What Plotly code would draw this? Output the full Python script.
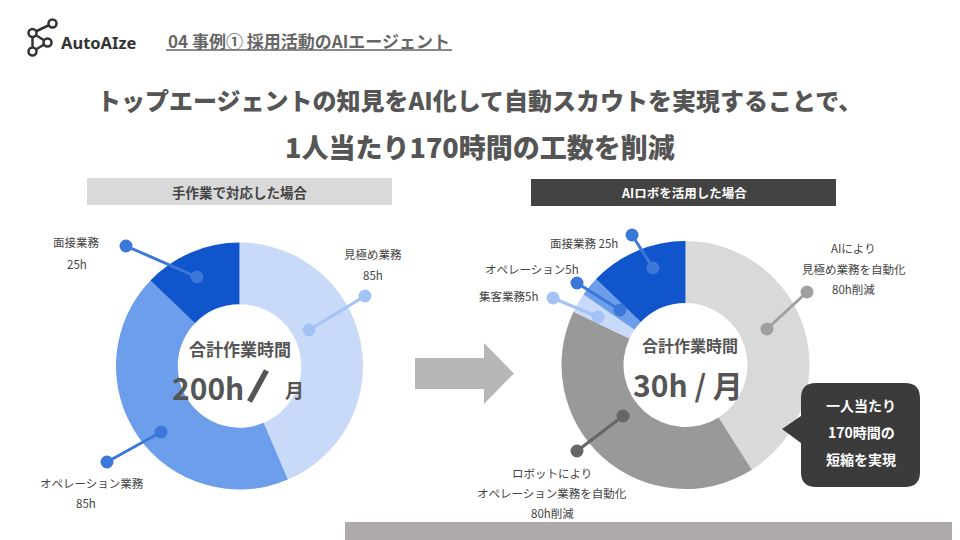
import plotly.graph_objects as go

# The page body adds an 8px margin around the figure; the figure is sized so
# that it fits the 960x540 window, and all positions below are given in
# window pixels.
OX, OY = 8, 8
W, H = 960 - OX, 540 - OY

# ---------------- data ----------------
manual_labels = ["見極め業務", "オペレーション業務", "面接業務"]
manual_hours = [85, 85, 25]
manual_colors = ["#c9daf8", "#6d9eeb", "#1155cc"]
manual_total = "200h"

ai_labels = ["AIにより見極め業務を自動化", "ロボットによりオペレーション業務を自動化",
             "集客業務", "オペレーション", "面接業務"]
ai_hours = [80, 80, 5, 5, 25]
ai_colors = ["#d9d9d9", "#999999", "#c9daf8", "#6d9eeb", "#1155cc"]
ai_total = "30h"

title_line1 = "トップエージェントの知見をAI化して自動スカウトを実現することで、"
title_line2 = "1人当たり170時間の工数を削減"
section_title = "04 事例① 採用活動のAIエージェント"
left_header = "手作業で対応した場合"
right_header = "AIロボを活用した場合"
callout_lines = ["一人当たり", "170時間の", "短縮を実現"]

JP = "Noto Sans CJK JP"
TXT = "#555555"
LBL = "#444444"


def px(x):
    return (x - OX) / W


def py(y):
    return 1 - (y - OY) / H


def P(x, y):
    return f"{px(x):.5f},{py(y):.5f}"


fig = go.Figure()

# ---------------- donuts ----------------
def domain(cx, cy, r):
    return dict(x=[px(cx - r), px(cx + r)], y=[py(cy + r), py(cy - r)])


fig.add_trace(go.Pie(
    labels=manual_labels, values=manual_hours, hole=0.5, sort=False,
    direction="clockwise", rotation=0, textinfo="none",
    marker=dict(colors=manual_colors, line=dict(width=0)),
    domain=domain(239.5, 366, 123.5), showlegend=False, hoverinfo="label+value"))

fig.add_trace(go.Pie(
    labels=ai_labels, values=ai_hours, hole=0.5, sort=False,
    direction="clockwise", rotation=0, textinfo="none",
    marker=dict(colors=ai_colors, line=dict(width=0)),
    domain=domain(685.5, 365, 124), showlegend=False, hoverinfo="label+value"))

shapes = []
annotations = []


def rect(x0, y0, x1, y1, color):
    shapes.append(dict(type="rect", xref="paper", yref="paper",
                       x0=px(x0), x1=px(x1), y0=py(y1), y1=py(y0),
                       fillcolor=color, line=dict(width=0), layer="below"))


def text(x, y, s, size=12, color=TXT, bold=False, family=JP, xanchor="center",
         weight=None):
    if bold:
        s = f"<b>{s}</b>"
    font = dict(family=family, size=size, color=color)
    if weight is not None:
        font["weight"] = weight
    annotations.append(dict(x=px(x), y=py(y), xref="paper", yref="paper",
                            text=s, showarrow=False, xanchor=xanchor, yanchor="middle",
                            font=font, borderpad=0))


def seg(x0, y0, x1, y1, color, width):
    shapes.append(dict(type="line", xref="paper", yref="paper",
                       x0=px(x0), y0=py(y0), x1=px(x1), y1=py(y1),
                       line=dict(color=color, width=width), layer="above"))


def leader(x0, y0, x1, y1, color, r=6.5):
    seg(x0, y0, x1, y1, color, 3)
    for (cx, cy) in [(x0, y0), (x1, y1)]:
        shapes.append(dict(type="circle", xref="paper", yref="paper",
                           x0=px(cx - r), x1=px(cx + r), y0=py(cy + r), y1=py(cy - r),
                           fillcolor=color, line=dict(width=0), layer="above"))


# ---------------- header area ----------------
nodes = [(52.5, 23.5), (32.5, 33), (47.5, 42.5), (32.5, 51.5)]
edges = [(0, 1), (1, 2), (2, 3), (1, 3)]
for a, b in edges:
    shapes.append(dict(type="line", xref="paper", yref="paper",
                       x0=px(nodes[a][0]), y0=py(nodes[a][1]),
                       x1=px(nodes[b][0]), y1=py(nodes[b][1]),
                       line=dict(color="#333333", width=2.5)))
for (cx, cy) in nodes:
    r = 4
    shapes.append(dict(type="circle", xref="paper", yref="paper",
                       x0=px(cx - r), x1=px(cx + r), y0=py(cy + r), y1=py(cy - r),
                       fillcolor="white", line=dict(color="#333333", width=2.5)))
text(60, 42, "AutoAIze", size=16.5, color="#333333", bold=True, family="Noto Sans",
     xanchor="left")

text(309, 41, section_title, size=17, color="#666666", bold=True)
shapes.append(dict(type="line", xref="paper", yref="paper",
                   x0=px(166), x1=px(452), y0=py(50), y1=py(50),
                   line=dict(color="#8a8a8a", width=2)))

text(479, 100, title_line1, size=24, color="#555555", weight=900)
text(480, 146, title_line2, size=27, color="#555555", weight=900)

# section header bars
rect(87, 178, 392, 205, "#d9d9d9")
text(239.5, 192, left_header, size=13.5, color=LBL, bold=True)
rect(531, 179, 836, 206, "#434343")
text(683.5, 192.5, right_header, size=12.5, color="#ffffff", bold=True)

# arrow
arrow = ("M " + P(415, 358) + " L " + P(484, 358) + " L " + P(484, 343) + " L " +
         P(514, 373.5) + " L " + P(484, 404) + " L " + P(484, 389) + " L " +
         P(415, 389) + " Z")
shapes.append(dict(type="path", xref="paper", yref="paper", path=arrow,
                   fillcolor="#b7b7b7", line=dict(width=0)))

# bottom bar
rect(345, 522, 960, 540, "#aeaaaa")

# ---------------- left donut labels ----------------
leader(126, 246, 197, 277, "#3c78d8")
leader(365, 296, 309, 330, "#a4c2f4")
leader(107, 462, 161, 432, "#3c78d8")

text(76.5, 242, manual_labels[2], size=11.5, color=LBL)
text(77, 264, f"{manual_hours[2]}h", size=11.5, color=LBL)
text(373, 254, manual_labels[0], size=11.5, color=LBL)
text(373, 275, f"{manual_hours[0]}h", size=11.5, color=LBL)
text(92, 483, manual_labels[1], size=11.5, color=LBL)
text(86, 503, f"{manual_hours[1]}h", size=11.5, color=LBL)

text(240, 348, "合計作業時間", size=17, color=TXT, bold=True)
text(208, 387, manual_total, size=30, color=TXT, bold=True)
seg(249.5, 401.5, 266.5, 370.5, TXT, 5.5)   # big slash of "200h／月"
text(294, 389, "月", size=19, color=TXT, bold=True)

# ---------------- right donut labels ----------------
leader(632, 235, 653, 268, "#3c78d8")
leader(577, 283, 620, 310, "#3c78d8")
leader(553, 298, 598, 317, "#a4c2f4")
leader(807, 292, 767, 329, "#a0a0a0")
leader(577, 451, 623, 416, "#666666")

text(584, 242.5, f"{ai_labels[4]} {ai_hours[4]}h", size=11.5, color=LBL)
text(532, 268.5, f"{ai_labels[3]}{ai_hours[3]}h", size=11.5, color=LBL)
text(508.5, 296, f"{ai_labels[2]}{ai_hours[2]}h", size=11.5, color=LBL)
text(853.5, 247.5, "AIにより", size=11.5, color=LBL)
text(853.5, 268.5, "見極め業務を自動化", size=11.5, color=LBL)
text(853.5, 288.5, f"{ai_hours[0]}h削減", size=11.5, color=LBL)
text(552, 472.5, "ロボットにより", size=11.5, color=LBL)
text(552, 492.5, "オペレーション業務を自動化", size=11.5, color=LBL)
text(552, 512.5, f"{ai_hours[1]}h削減", size=11.5, color=LBL)

text(690, 345, "合計作業時間", size=16, color=TXT, bold=True)
text(688, 384, f"{ai_total} / 月", size=30, color=TXT, bold=True)

# ---------------- callout ----------------
x0, x1, y0, y1, r = 801, 920, 383, 487, 15
callout = ("M " + P(x0 + r, y0) + " L " + P(x1 - r, y0) + " Q " + P(x1, y0) + " " + P(x1, y0 + r) +
           " L " + P(x1, y1 - r) + " Q " + P(x1, y1) + " " + P(x1 - r, y1) +
           " L " + P(x0 + r, y1) + " Q " + P(x0, y1) + " " + P(x0, y1 - r) +
           " L " + P(x0, 443) + " L " + P(782, 429) + " L " + P(x0, 416) +
           " L " + P(x0, y0 + r) + " Q " + P(x0, y0) + " " + P(x0 + r, y0) + " Z")
shapes.append(dict(type="path", xref="paper", yref="paper", path=callout,
                   fillcolor="#3b3b3b", line=dict(width=0), layer="above"))
for i, line in enumerate(callout_lines):
    text(861, 404.5 + i * 27, line, size=14, color="#ffffff", bold=True)

fig.update_layout(
    width=W, height=H, margin=dict(l=0, r=0, t=0, b=0),
    paper_bgcolor="white", plot_bgcolor="white",
    shapes=shapes, annotations=annotations,
)

fig.write_html("out.html")
